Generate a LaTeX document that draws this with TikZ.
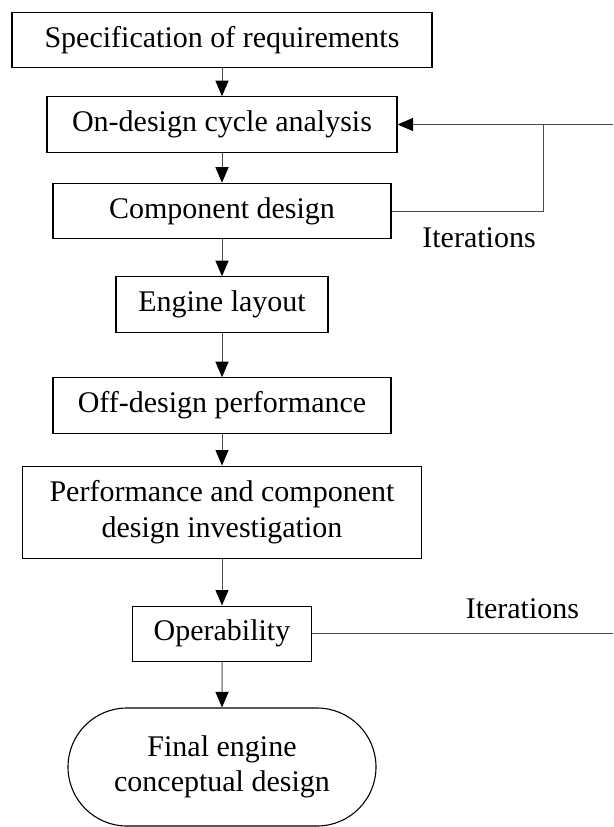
\documentclass[tikz,border=0pt]{standalone}
\usepackage{fontspec}
\setmainfont{Liberation Serif}
\usetikzlibrary{arrows.meta,shapes.misc}

\begin{document}
\begin{tikzpicture}[x=1pt,y=-1pt,
    font=\fontsize{30}{35.5}\selectfont,
    process/.style ={rectangle, draw, line width=1.1pt, inner sep=0pt,
                     minimum height=55.5pt, align=center},
    terminal/.style ={rounded rectangle, draw, line width=1.1pt, inner sep=0pt,
                      minimum width=308pt, minimum height=118pt, align=center},
    link/.style ={draw=black!70, line width=1pt},
    flow/.style ={link, -{Triangle[length=15.5pt,width=13pt,color=black]}}]
   \useasboundingbox (0,0) rectangle (613,827);

   \node[process, minimum width=420pt] (spec)      at (222,40)    {Specification of requirements};
   \node[process, minimum width=350pt] (ondesign)  at (222,124.5) {On-design cycle analysis};
   \node[process, minimum width=338pt] (comp)      at (222,211)   {Component design};
   \node[process, minimum width=212pt] (layout)    at (222,304.5) {Engine layout};
   \node[process, minimum width=338pt] (offdesign) at (222,405.5) {Off-design performance};
   \node[process, minimum width=399pt, minimum height=92.3pt] (perf) at (222,512.2)
        {Performance and component\\design investigation};
   \node[process, minimum width=179pt] (oper)      at (222,633.8) {Operability};
   \node[terminal] (final) at (222,767) {Final engine\\conceptual design};

   \node[anchor=base] (iterA) at (479,247.3) {Iterations};
   \node[anchor=base] (iterB) at (522.4,618.3) {Iterations};

   \coordinate (join) at (543,124.5);
   \coordinate (retA) at (613,124.5);
   \coordinate (retB) at (613,633.8);

   \draw[flow] (spec) to (ondesign);
   \draw[flow] (ondesign) to (comp);
   \draw[flow] (comp) to (layout);
   \draw[flow] (layout) to (offdesign);
   \draw[flow] (offdesign) to (perf);
   \draw[flow] (perf) to (oper);
   \draw[flow] (oper) to (final);

   % feedback loops
   \draw[flow] (retA) to (ondesign.east);
   \draw[link] (comp.east) -| (join);
   \draw[link] (oper.east) to (retB);
 \end{tikzpicture}
\end{document}
